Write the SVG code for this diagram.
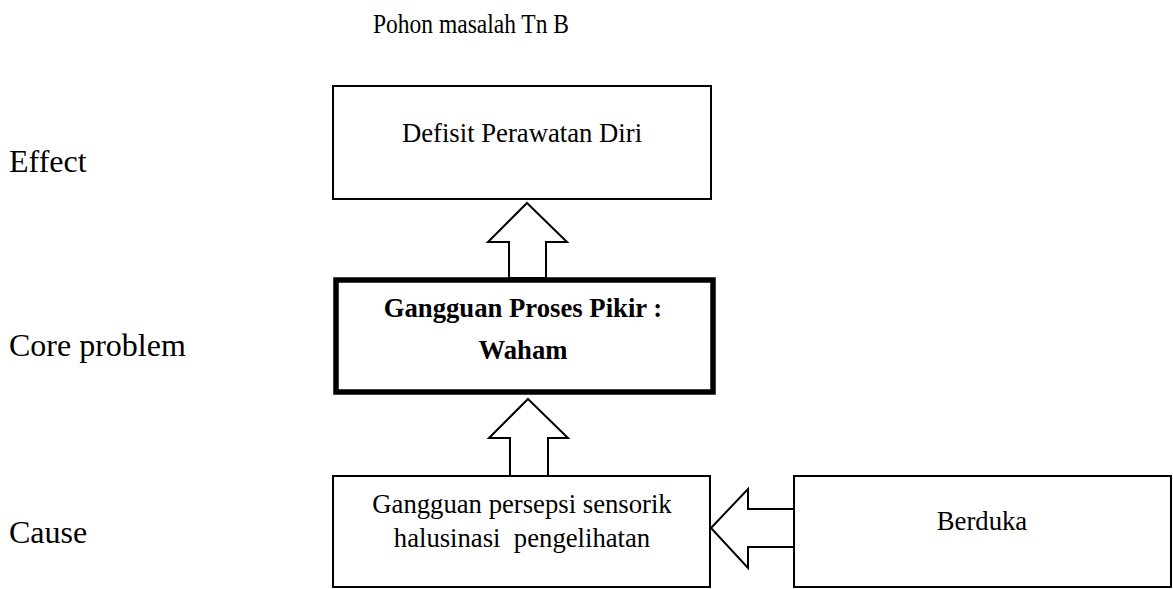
<svg xmlns="http://www.w3.org/2000/svg" width="1173" height="589" viewBox="0 0 1173 589">
<style>
.box{fill:#fff;stroke:#000;stroke-width:2}
.core{fill:#fff;stroke:#000;stroke-width:5.5}
.arrow{fill:#fff;stroke:#000;stroke-width:2;stroke-linejoin:miter}
.t{font-family:"Liberation Serif","Times New Roman",serif;fill:#000}
.lbl{font-size:32px}
.ttl{font-size:27px}
.bt{font-size:26.7px;text-anchor:middle}
.b{font-weight:bold}
</style>
<rect width="1173" height="589" fill="#fff"/>
<text class="t ttl" x="373" y="33" textLength="196" lengthAdjust="spacingAndGlyphs">Pohon masalah Tn B</text>
<text class="t lbl" x="9" y="172">Effect</text>
<text class="t lbl" x="9" y="356">Core problem</text>
<text class="t lbl" x="9" y="543">Cause</text>
<g id="connectors">
<polygon class="arrow" points="527,203 567,242 546,242 546,278 509,278 509,242 488,242"/>
<polygon class="arrow" points="528,399 568,438 548,438 548,476 510,476 510,438 489,438"/>
<polygon class="arrow" points="711,528 748,489 748,509 794,509 794,547 748,547 748,568"/>
</g>
<g id="effect">
<rect class="box" x="333" y="86" width="378" height="113"/>
<text class="t bt" x="522" y="142">Defisit Perawatan Diri</text>
</g>
<g id="core">
<rect class="core" x="336" y="280" width="377" height="112"/>
<text class="t bt b" x="523" y="317">Gangguan Proses Pikir :</text>
<text class="t bt b" x="523" y="359">Waham</text>
</g>
<g id="cause">
<rect class="box" x="333" y="476" width="377" height="111"/>
<text class="t bt" x="522" y="513">Gangguan persepsi sensorik</text>
<text class="t bt" x="522" y="547" xml:space="preserve">halusinasi  pengelihatan</text>
</g>
<g id="berduka">
<rect class="box" x="794" y="476" width="377" height="111"/>
<text class="t bt" x="982" y="530">Berduka</text>
</g>
</svg>
